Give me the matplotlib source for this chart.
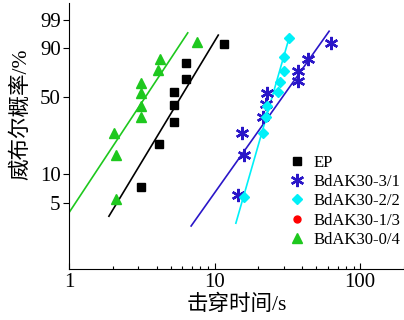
import numpy as np
import matplotlib
matplotlib.use('Agg')
import matplotlib.pyplot as plt
from matplotlib.ticker import FixedLocator, FixedFormatter, NullLocator

plt.rcParams['font.family'] = ['Liberation Serif', 'Noto Sans CJK SC']

# breakdown time (s) and Weibull probability (%)
ep_t = [3.13, 4.17, 5.27, 5.27, 5.27, 6.34, 6.34, 11.6]
ep_p = [7.4, 19.6, 31.4, 43.3, 54.8, 66.1, 79.6, 92.2]

s31_t = [14.5, 15.95, 15.45, 21.6, 22.6, 22.9, 37.3, 37.3, 43.6, 63.2]
s31_p = [6.1, 15.6, 25.2, 34.7, 44.4, 54.0, 64.3, 73.2, 82.7, 92.6]

s22_t = [15.8, 21.4, 22.6, 22.85, 27.45, 28.2, 30.0, 30.0, 32.7]
s22_p = [5.85, 25.3, 34.9, 42.8, 54.8, 63.2, 73.2, 84.2, 94.7]

s13_t = []
s13_p = []

s04_t = [2.10, 2.10, 2.04, 3.13, 3.13, 3.13, 3.13, 4.11, 4.22, 7.55]
s04_p = [5.6, 15.5, 25.2, 34.5, 42.8, 53.8, 62.8, 74.1, 83.4, 93.3]

# fitted Weibull lines: shape, scale, time range
fit_ep = (2.57, 6.75, 1.88, 10.6)
fit_31 = (2.19, 34.5, 6.9, 61.2)
fit_22 = (5.40, 26.55, 14.0, 32.7)
fit_04 = (2.35, 3.90, 1.0, 6.54)


def fwd(p):
    p = np.clip(np.asarray(p, dtype=float), 1e-6, 100 - 1e-9)
    return np.log(-np.log(1 - p / 100.0))


def inv(w):
    return 100.0 * (1 - np.exp(-np.exp(w)))


def fit_line(ax, prm, color):
    beta, eta, t0, t1 = prm
    t = np.logspace(np.log10(t0), np.log10(t1), 50)
    ax.plot(t, inv(beta * np.log(t / eta)), '-', color=color, lw=1.2)


fig = plt.figure(figsize=(4.04, 3.2), dpi=100)
ax = fig.add_axes([69 / 404, 51 / 320, 335 / 404, 266 / 320])
ax.set_xscale('log')
ax.set_yscale('function', functions=(fwd, inv))

green = '#1ec81e'
blue = '#2a16c8'
cyan = '#00f0f8'

fit_line(ax, fit_04, green)
fit_line(ax, fit_ep, 'black')
fit_line(ax, fit_31, blue)
fit_line(ax, fit_22, cyan)

ax.plot(ep_t, ep_p, 's', color='black', ms=6, label='EP')
ax.plot(s31_t, s31_p, ls='none', marker=(6, 2, 0), color=blue, mec=blue,
        ms=9.5, mew=1.7, label='BdAK30-3/1')
ax.plot(s22_t, s22_p, 'D', color=cyan, ms=5, label='BdAK30-2/2')
ax.plot(s13_t, s13_p, 'o', color='red', ms=5, label='BdAK30-1/3')
ax.plot(s04_t, s04_p, '^', color=green, ms=6.5, label='BdAK30-0/4')

ax.set_xlim(1, 200)
ax.set_ylim(1.02, 99.91)

ax.xaxis.set_major_locator(FixedLocator([1, 10, 100]))
ax.xaxis.set_major_formatter(FixedFormatter(['1', '10', '100']))
ax.yaxis.set_major_locator(FixedLocator([5, 10, 50, 90, 99]))
ax.yaxis.set_major_formatter(FixedFormatter(['5', '10', '50', '90', '99']))
ax.yaxis.set_minor_locator(NullLocator())

ax.tick_params(axis='x', which='major', direction='in', length=4, width=0.8,
               labelsize=15, pad=3)
ax.tick_params(axis='x', which='minor', direction='in', length=2.5, width=0.8)
ax.tick_params(axis='y', which='major', direction='out', length=4, width=0.8,
               labelsize=15, pad=2)

for s in ['top', 'right']:
    ax.spines[s].set_visible(False)

ax.set_xlabel('击穿时间/s', fontsize=15.5, labelpad=2)
ax.set_ylabel('威布尔概率/%', fontsize=15.5)
ax.yaxis.set_label_coords(-0.112, 0.58)

ax.legend(loc='upper left', bbox_to_anchor=(0.655, 0.43), frameon=False,
          fontsize=12, numpoints=1, handlelength=1.0, handletextpad=0.5,
          labelspacing=0.2, borderpad=0, borderaxespad=0)

fig.savefig('out.png', dpi=100)
